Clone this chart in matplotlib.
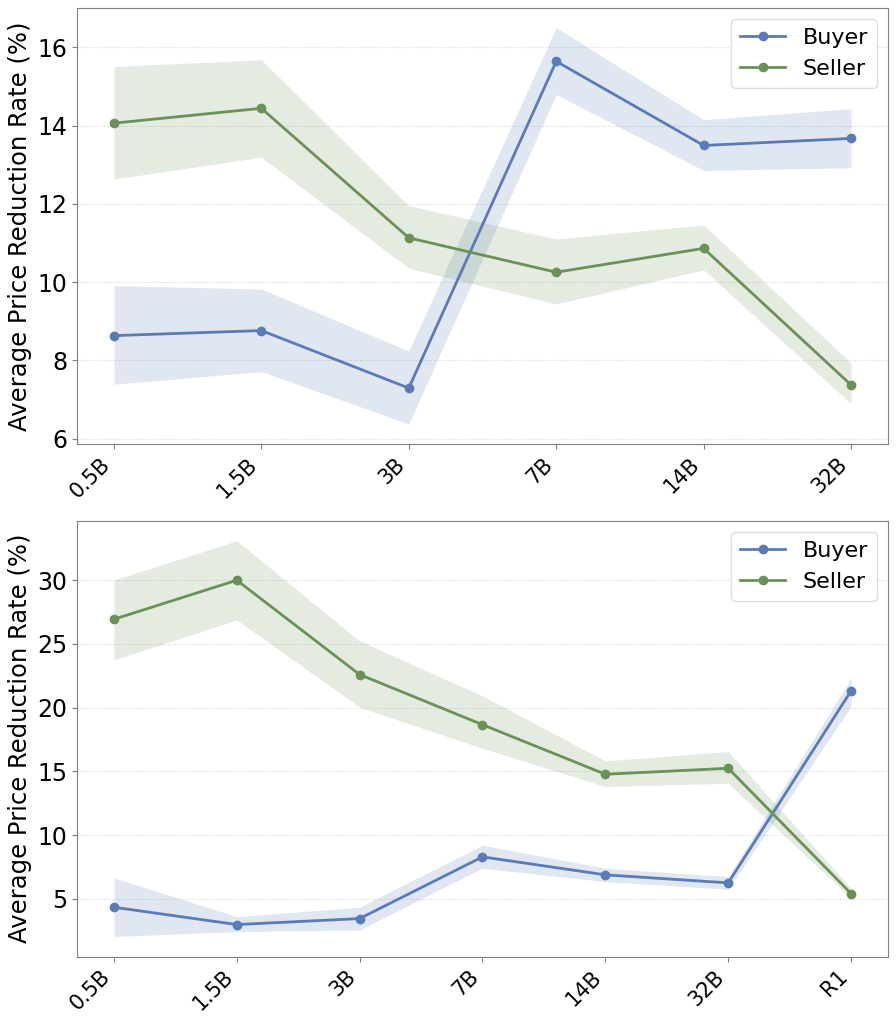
import numpy as np
import matplotlib.pyplot as plt

# top panel: 6 model sizes
sizes_top = ["0.5B", "1.5B", "3B", "7B", "14B", "32B"]
buyer_top = [8.63, 8.76, 7.29, 15.64, 13.49, 13.67]
buyer_top_hi = [9.91, 9.82, 8.24, 16.50, 14.15, 14.43]
buyer_top_lo = [7.39, 7.71, 6.37, 14.79, 12.85, 12.92]
seller_top = [14.06, 14.44, 11.13, 10.25, 10.86, 7.37]
seller_top_hi = [15.51, 15.68, 11.95, 11.10, 11.46, 7.93]
seller_top_lo = [12.63, 13.19, 10.35, 9.44, 10.31, 6.89]

# bottom panel: 6 sizes + R1
sizes_bot = ["0.5B", "1.5B", "3B", "7B", "14B", "32B", "R1"]
buyer_bot = [4.35, 2.99, 3.46, 8.30, 6.89, 6.26, 21.32]
buyer_bot_hi = [6.65, 3.62, 4.35, 9.22, 7.41, 6.75, 22.31]
buyer_bot_lo = [2.05, 2.44, 2.57, 7.41, 6.36, 5.76, 20.09]
seller_bot = [26.94, 30.00, 22.60, 18.67, 14.78, 15.25, 5.42]
seller_bot_hi = [30.02, 33.10, 25.24, 20.93, 15.83, 16.56, 5.84]
seller_bot_lo = [23.75, 26.89, 20.04, 16.82, 13.81, 14.08, 5.06]

BLUE = "#5a7bb5"
GREEN = "#6b9159"


def draw(ax, labels, buyer, b_lo, b_hi, seller, s_lo, s_hi, yticks, ylim):
    x = np.arange(len(labels))
    ax.fill_between(x, b_lo, b_hi, color=BLUE, alpha=0.18, linewidth=0)
    ax.fill_between(x, s_lo, s_hi, color=GREEN, alpha=0.18, linewidth=0)
    ax.plot(x, buyer, "-o", color=BLUE, lw=2, ms=6, label="Buyer")
    ax.plot(x, seller, "-o", color=GREEN, lw=2, ms=6, label="Seller")
    ax.set_xticks(x)
    ax.set_xticklabels(labels, rotation=45, ha="right", fontsize=15)
    ax.set_yticks(yticks)
    ax.tick_params(axis="y", labelsize=17)
    ax.set_ylim(*ylim)
    ax.set_ylabel("Average Price Reduction Rate (%)", fontsize=17.5, labelpad=4)
    ax.yaxis.grid(True, linestyle=":", color="#d5d5d5", lw=0.8)
    ax.set_axisbelow(True)
    for s in ax.spines.values():
        s.set_color("#808080")
    ax.tick_params(colors="#808080", labelcolor="black")
    ax.legend(loc="upper right", fontsize=16, framealpha=1, edgecolor="#dddddd")


fig = plt.figure(figsize=(8.96, 10.17), dpi=100)
ax1 = fig.add_axes([0.086, 0.5634, 0.905, 0.4286])
ax2 = fig.add_axes([0.086, 0.0593, 0.905, 0.4287])

draw(ax1, sizes_top, buyer_top, buyer_top_lo, buyer_top_hi,
     seller_top, seller_top_lo, seller_top_hi, [6, 8, 10, 12, 14, 16], (5.86, 17.0))
draw(ax2, sizes_bot, buyer_bot, buyer_bot_lo, buyer_bot_hi,
     seller_bot, seller_bot_lo, seller_bot_hi, [5, 10, 15, 20, 25, 30], (0.47, 34.67))

fig.savefig("out.png", dpi=100)
